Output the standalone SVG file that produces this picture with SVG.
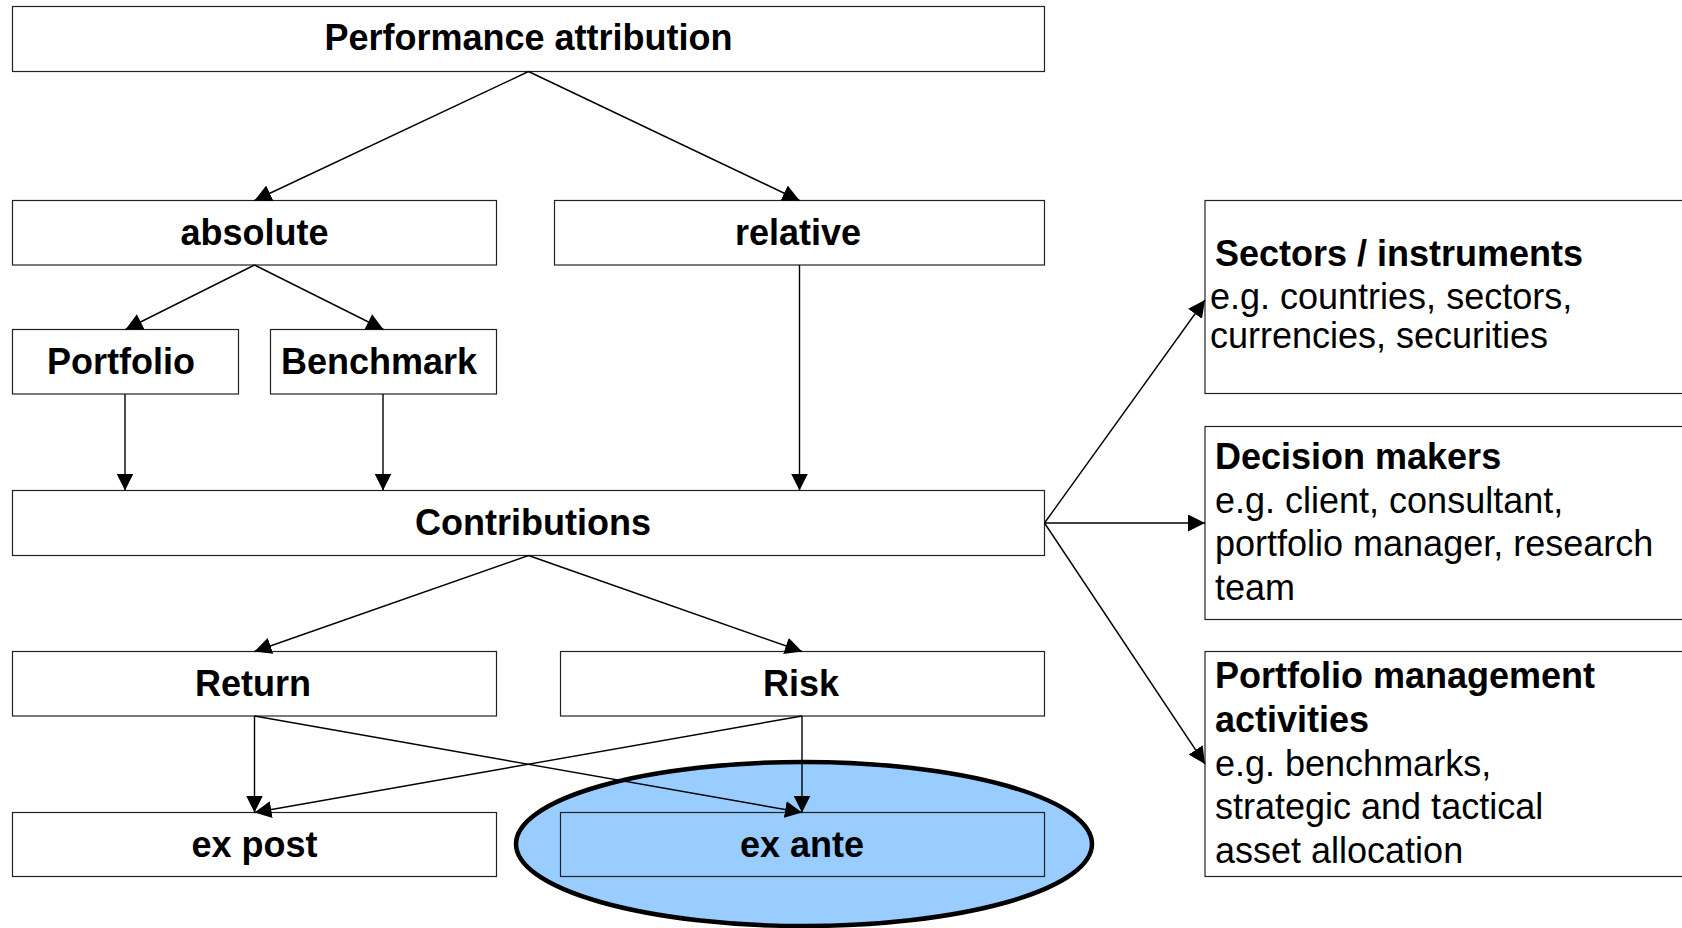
<svg xmlns="http://www.w3.org/2000/svg" width="1682" height="928" viewBox="0 0 1682 928">
<defs>
<style>
.box{fill:#fff;stroke:#222;stroke-width:1.2}
.lbl{font-family:"Liberation Sans",Arial,sans-serif;font-weight:bold;font-size:36px;fill:#000;text-anchor:middle}
.hd{font-family:"Liberation Sans",Arial,sans-serif;font-weight:bold;font-size:36px;fill:#000}
.tx{font-family:"Liberation Sans",Arial,sans-serif;font-size:36px;fill:#000}
.con line{stroke:#000;stroke-width:1.4;marker-end:url(#ah)}
</style>
<marker id="ah" markerUnits="userSpaceOnUse" markerWidth="17" markerHeight="17" refX="17" refY="8.5" orient="auto">
<path d="M0,0 L17,8.5 L0,17 z" fill="#000"/>
</marker>
</defs>
<rect width="1682" height="928" fill="#fff"/>

<g id="highlight">
<ellipse cx="804" cy="844" rx="288" ry="82" fill="#99ccff" stroke="#000" stroke-width="4.5"/>
</g>

<g id="perf">
<rect class="box" x="12.5" y="6.5" width="1032" height="65"/>
<text class="lbl" x="528.5" y="50">Performance attribution</text>
</g>
<g id="absolute">
<rect class="box" x="12.5" y="200.5" width="484" height="64.5"/>
<text class="lbl" x="254.5" y="245">absolute</text>
</g>
<g id="relative">
<rect class="box" x="554.5" y="200.5" width="490" height="64.5"/>
<text class="lbl" x="798" y="245">relative</text>
</g>
<g id="portfolio">
<rect class="box" x="12.5" y="329.5" width="226" height="64.5"/>
<text class="lbl" x="121" y="374">Portfolio</text>
</g>
<g id="benchmark">
<rect class="box" x="270.5" y="329.5" width="226" height="64.5"/>
<text class="lbl" x="379" y="374">Benchmark</text>
</g>
<g id="contributions">
<rect class="box" x="12.5" y="490.5" width="1032" height="65"/>
<text class="lbl" x="533" y="535">Contributions</text>
</g>
<g id="return">
<rect class="box" x="12.5" y="651.5" width="484" height="64.5"/>
<text class="lbl" x="253" y="696">Return</text>
</g>
<g id="risk">
<rect class="box" x="560.5" y="651.5" width="484" height="64.5"/>
<text class="lbl" x="801" y="696">Risk</text>
</g>
<g id="expost">
<rect class="box" x="12.5" y="812.5" width="484" height="64"/>
<text class="lbl" x="254.5" y="857">ex post</text>
</g>
<g id="exante">
<rect x="560.5" y="812.5" width="484" height="64" fill="none" stroke="#222" stroke-width="1.2"/>
<text class="lbl" x="802" y="857">ex ante</text>
</g>

<g id="sectors">
<rect class="box" x="1205" y="200.5" width="490" height="193"/>
<text class="hd" x="1215" y="266">Sectors / instruments</text>
<text class="tx" x="1210" y="309">e.g. countries, sectors,</text>
<text class="tx" x="1210" y="348">currencies, securities</text>
</g>
<g id="decision">
<rect class="box" x="1205" y="426.5" width="490" height="193"/>
<text class="hd" x="1215" y="469">Decision makers</text>
<text class="tx" x="1215" y="512.5">e.g. client, consultant,</text>
<text class="tx" x="1215" y="556">portfolio manager, research</text>
<text class="tx" x="1215" y="599.5">team</text>
</g>
<g id="pmactivities">
<rect class="box" x="1205" y="651.5" width="490" height="225"/>
<text class="hd" x="1215" y="688">Portfolio management</text>
<text class="hd" x="1215" y="731.75">activities</text>
<text class="tx" x="1215" y="775.5">e.g. benchmarks,</text>
<text class="tx" x="1215" y="819.25">strategic and tactical</text>
<text class="tx" x="1215" y="863">asset allocation</text>
</g>

<g id="connectors" class="con">
<line x1="528.5" y1="71.5" x2="254.5" y2="200.5"/>
<line x1="528.5" y1="71.5" x2="799.5" y2="200.5"/>
<line x1="254.5" y1="265" x2="125.5" y2="329.5"/>
<line x1="254.5" y1="265" x2="383.5" y2="329.5"/>
<line x1="125" y1="394" x2="125" y2="490.5"/>
<line x1="383" y1="394" x2="383" y2="490.5"/>
<line x1="799.5" y1="265" x2="799.5" y2="490.5"/>
<line x1="528.5" y1="555.5" x2="254.5" y2="651.5"/>
<line x1="528.5" y1="555.5" x2="802" y2="651.5"/>
<line x1="254.5" y1="716" x2="254.5" y2="812.5"/>
<line x1="254.5" y1="716" x2="802" y2="812.5"/>
<line x1="802" y1="716" x2="802" y2="812.5"/>
<line x1="802" y1="716" x2="254.5" y2="812.5"/>
<line x1="1044.5" y1="523" x2="1205" y2="300"/>
<line x1="1044.5" y1="523" x2="1205" y2="523"/>
<line x1="1044.5" y1="523" x2="1205" y2="764"/>
</g>
</svg>
